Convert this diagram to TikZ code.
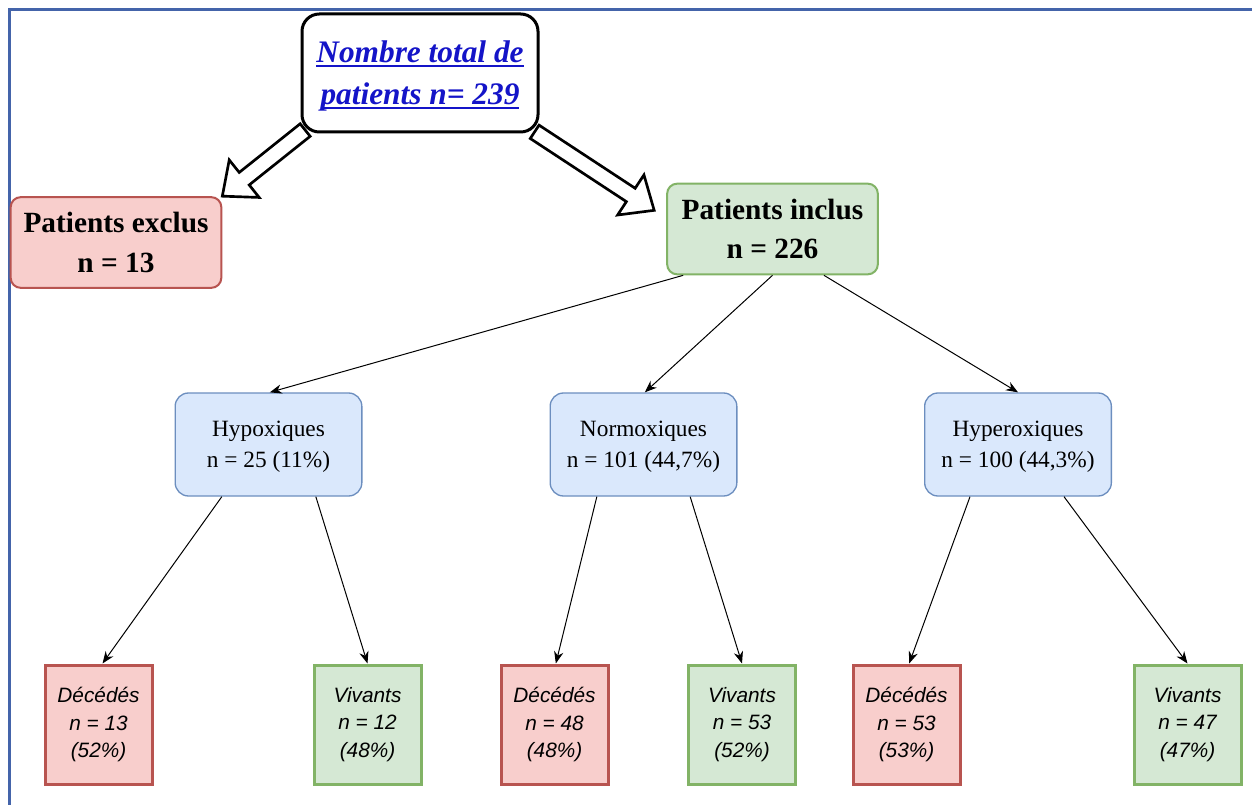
\documentclass[tikz,border=0pt]{standalone}
\usepackage{fontspec}
\setmainfont{Liberation Serif}
\newfontfamily\arialfont{Liberation Sans}
\usetikzlibrary{arrows.meta,calc}
\definecolor{redfill}{HTML}{F8CECC}
\definecolor{redline}{HTML}{B85450}
\definecolor{greenfill}{HTML}{D5E8D4}
\definecolor{greenline}{HTML}{82B366}
\definecolor{bluefill}{HTML}{DAE8FC}
\definecolor{blueline}{HTML}{6C8EBF}
\definecolor{titleblue}{RGB}{20,20,200}
\definecolor{framecol}{RGB}{68,100,170}
\newcommand\myul[1]{\setbox0\hbox{#1}\rlap{\rule[-3pt]{\wd0}{1.1pt}}\box0}
\tikzset{
  titlebox/.style={draw=black, line width=2.25pt, rounded corners=13pt, fill=white,
    minimum width=177pt, minimum height=88.5pt, align=center, inner sep=0pt,
    text depth=0pt, text=titleblue, font=\fontsize{23.5}{31.5}\selectfont\bfseries\itshape},
  bigbox/.style={line width=1.5pt, rounded corners=7.5pt, minimum width=158pt,
    minimum height=68pt, align=center, inner sep=0pt,
    font=\fontsize{22}{29.5}\selectfont\bfseries},
  midbox/.style={draw=blueline, fill=bluefill, line width=1pt, rounded corners=10pt,
    minimum width=140pt, minimum height=77.25pt, align=center, inner sep=0pt,
    text depth=0pt, font=\fontsize{17.5}{23.5}\selectfont},
  leafbox/.style={line width=2.25pt, minimum width=80.25pt, minimum height=89.25pt,
    align=center, inner sep=0pt, font=\arialfont\itshape\fontsize{15.6}{20.8}\selectfont},
  dead/.style={leafbox, draw=redline, fill=redfill},
  alive/.style={leafbox, draw=greenline, fill=greenfill},
  conn/.style={draw=black, line width=0.75pt, -{Stealth[length=9pt,width=7pt]}},
  blockarrow/.style={draw=black, line width=2pt, fill=white, line join=miter},
}
\begin{document}
\begin{tikzpicture}[x=0.75pt,y=-0.75pt]
\useasboundingbox (0,0) rectangle (1252,805);
\fill[white] (0,0) rectangle (1252,805);
\draw[framecol, line width=1.6pt] (9.5,805) -- (9.5,9.5) -- (1252,9.5);

% nodes (exclus/inclus first so block arrows can refer to them)
\node[bigbox, draw=redline, fill=redfill] (exclus) at (116,242.5) {Patients exclus\\n = 13};
\node[bigbox, draw=greenline, fill=greenfill] (inclus) at (772.5,229) {Patients inclus\\n = 226};

% block arrows
\draw[blockarrow, shift={(exclus.north east)}, rotate=218.6]
  (0,0) -- (-28,-24) -- (-28,-8) -- (-106,-8) -- (-106,8) -- (-28,8) -- (-28,24) -- cycle;
\draw[blockarrow, shift={([shift={(-9pt,14pt)}]inclus.west)}, rotate=-33.3]
  (0,0) -- (-28,-24) -- (-28,-8) -- (-143,-8) -- (-143,8) -- (-28,8) -- (-28,24) -- cycle;

\node[titlebox] (total) at (420,73) {\myul{Nombre total de}\\\myul{patients n= 239}};

\node[midbox] (hypo) at (268.5,444.5) {Hypoxiques\\n = 25 (11\%)};
\node[midbox] (normo) at (643.5,444.5) {Normoxiques\\n = 101 (44,7\%)};
\node[midbox] (hyper) at (1018,444.5) {Hyperoxiques\\n = 100 (44,3\%)};

\node[dead]  (d1) at (98.5,724.5)  {Décédés\\n = 13\\(52\%)};
\node[alive] (v1) at (367.5,724.5) {Vivants\\n = 12\\(48\%)};
\node[dead]  (d2) at (554.5,724.5) {Décédés\\n = 48\\(48\%)};
\node[alive] (v2) at (742,724.5)   {Vivants\\n = 53\\(52\%)};
\node[dead]  (d3) at (906.5,724.5) {Décédés\\n = 53\\(53\%)};
\node[alive] (v3) at (1187.5,724.5) {Vivants\\n = 47\\(47\%)};

% connectors
\draw[conn] ([xshift=-67pt]inclus.south) -- ([xshift=1pt]hypo.north);
\draw[conn] (inclus.south) -- ([xshift=1pt]normo.north);
\draw[conn] ([xshift=38.6pt]inclus.south) -- (hyper.north);

\draw[conn] ([xshift=-35pt]hypo.south) -- ([xshift=3pt]d1.north);
\draw[conn] ([xshift=35.5pt]hypo.south) -- (v1.north);
\draw[conn] ([xshift=-35pt]normo.south) -- ([xshift=1pt]d2.north);
\draw[conn] ([xshift=35pt]normo.south) -- (v2.north);
\draw[conn] ([xshift=-36pt]hyper.south) -- ([xshift=2pt]d3.north);
\draw[conn] ([xshift=34.5pt]hyper.south) -- (v3.north);
\end{tikzpicture}
\end{document}
